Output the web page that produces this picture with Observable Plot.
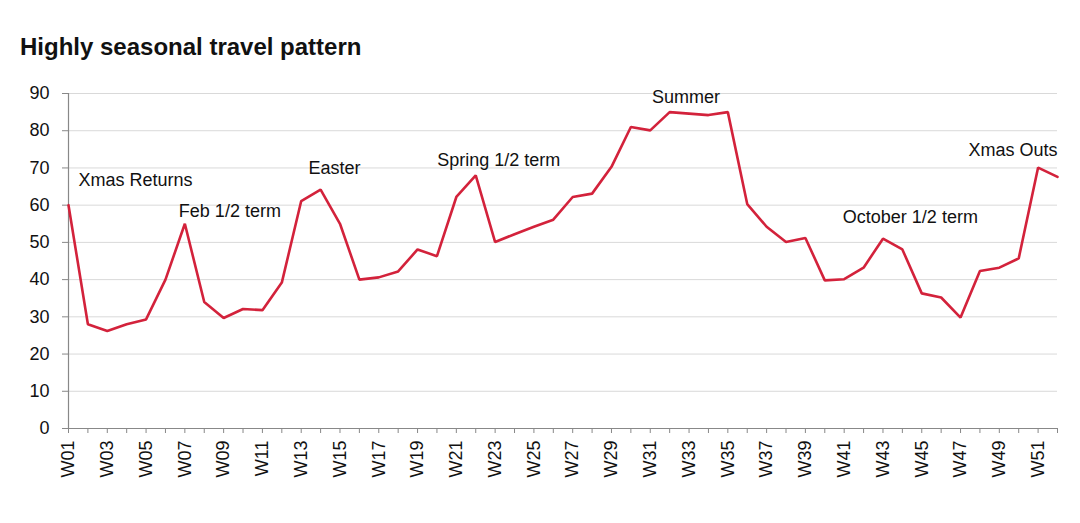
<!DOCTYPE html>
<html>
<head>
<meta charset="utf-8">
<script src="https://cdn.jsdelivr.net/npm/d3@7"></script>
<script src="https://cdn.jsdelivr.net/npm/@observablehq/plot@0.6"></script>
<style>
  html, body { margin: 0; padding: 0; background: #fff; }
  #wrap { width: 1080px; height: 523px; overflow: hidden; }
  #head { height: 70px; position: relative; }
  #title { position: absolute; left: 20px; top: 33px; line-height: 24px;
           font: bold 24px "Liberation Sans", Arial, sans-serif; color: #111; white-space: nowrap; }
</style>
</head>
<body>
<div id="wrap">
  <div id="head"><div id="title">Highly seasonal travel pattern</div></div>
  <div id="chart"></div>
</div>
<script>
const weeks = ["W01","W02","W03","W04","W05","W06","W07","W08","W09","W10",
  "W11","W12","W13","W14","W15","W16","W17","W18","W19","W20",
  "W21","W22","W23","W24","W25","W26","W27","W28","W29","W30",
  "W31","W32","W33","W34","W35","W36","W37","W38","W39","W40",
  "W41","W42","W43","W44","W45","W46","W47","W48","W49","W50",
  "W51","W52"];
const values = [60, 28, 26.2, 28, 29.3, 40, 55, 34, 29.7, 32.1,
  31.8, 39.2, 61.1, 64.2, 55, 40, 40.6, 42.2, 48.1, 46.3,
  62.2, 68, 50.1, 52.2, 54.2, 56.1, 62.2, 63.1, 70.3, 81,
  80.1, 85, 84.6, 84.2, 85, 60.3, 54.2, 50.1, 51.2, 39.8,
  40.1, 43.2, 51, 48.1, 36.3, 35.2, 29.8, 42.3, 43.2, 45.7,
  70.1, 67.6];
const yTicks = [0, 10, 20, 30, 40, 50, 60, 70, 80, 90];

// annotations: label, anchor week, anchor value
const annLabels = ["Xmas Returns", "Feb 1/2 term", "Easter", "Spring 1/2 term", "Summer", "October 1/2 term", "Xmas Outs"];
const annWeeks  = ["W01", "W07", "W14", "W22", "W33", "W44", "W52"];
const annValues = [66.7, 58.3, 69.9, 72, 89, 56.7, 74.7];
// layout of annotation text (offsets / anchors)
const annDx     = [10, -6, 14, 23, -3, 8, 0];
const annAnchor = ["start", "start", "middle", "middle", "middle", "middle", "end"];

// week index (1-based) used as the position along the x scale
const weekIndex = w => weeks.indexOf(w) + 1;
const data = weeks.map((w, i) => ({wk: i + 1, value: values[i]}));
const anns = annLabels.map((l, i) => ({label: l, wk: weekIndex(annWeeks[i]), y: annValues[i], dx: annDx[i], anchor: annAnchor[i]}));
const xTicks = weeks.map(weekIndex);

const chart = Plot.plot({
  width: 1080,
  height: 453,
  marginTop: 23,
  marginBottom: 95,
  marginLeft: 68,
  marginRight: 23,
  style: {fontFamily: '"Liberation Sans", Arial, sans-serif', fontSize: "18px", color: "#111", background: "#fff"},
  x: {type: "linear", domain: [1, weeks.length], label: null},
  y: {domain: [0, 90], label: null},
  marks: [
    Plot.gridY(yTicks, {stroke: "#d9d9d9", strokeOpacity: 1, strokeWidth: 1}),
    Plot.axisY(yTicks, {tickSize: 6, tickPadding: 13, stroke: "#888", fontSize: 18, label: null}),
    Plot.axisX(xTicks, {tickRotate: -90, tickSize: 5, tickPadding: 7, stroke: "#888", fontSize: 18,
      tickFormat: d => (d - 1) % 2 ? "" : weeks[d - 1], label: null}),
    Plot.ruleX([1], {stroke: "#888", strokeWidth: 1.2}),
    Plot.ruleY([0], {stroke: "#888", strokeWidth: 1.2}),
    Plot.line(data, {x: "wk", y: "value", stroke: "#d3223b", strokeWidth: 2.6, strokeLinejoin: "miter"}),
    ...anns.map(a => Plot.text([a], {x: "wk", y: "y", text: "label", dx: a.dx, textAnchor: a.anchor,
      fontSize: 18, fill: "#111"}))
  ]
});
document.getElementById("chart").appendChild(chart);
</script>
</body>
</html>
